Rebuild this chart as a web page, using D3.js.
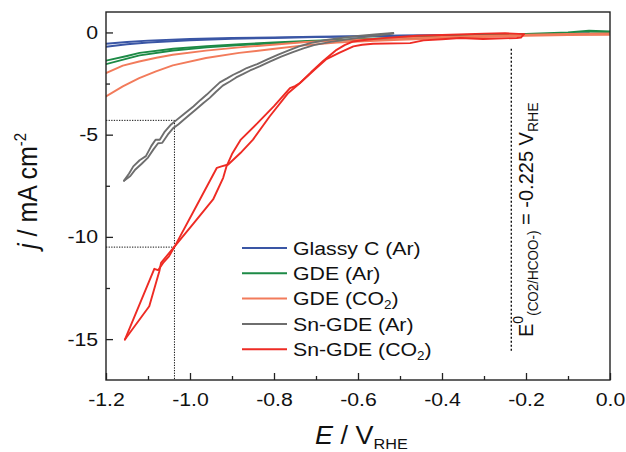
<!DOCTYPE html>
<html><head><meta charset="utf-8">
<script src="https://cdn.jsdelivr.net/npm/d3@7"></script>
<style>
body{margin:0;background:#fff;}
svg{display:block;font-family:"Liberation Sans",Arial,sans-serif;}
</style></head>
<body><div id="chart"></div>
<script>
// ---------- data ----------
const seriesNames = ["Glassy C (Ar)", "GDE (Ar)", "GDE (CO2)", "Sn-GDE (Ar)", "Sn-GDE (CO2)"];
const seriesColors = ["#3a56a5", "#1d8a46", "#f27b5b", "#6e6e6e", "#ee2b24"];

const glassyFwd = [[-1.2,-0.55],[-1.15,-0.47],[-1.1,-0.40],[-1.0,-0.32],[-0.9,-0.27],[-0.8,-0.24],[-0.7,-0.21],[-0.6,-0.18],[-0.5,-0.15],[-0.4,-0.13],[-0.3,-0.11],[-0.2,-0.08],[-0.1,-0.06],[-0.05,-0.05]];
const glassyRev = [[-1.2,-0.70],[-1.15,-0.58],[-1.1,-0.49],[-1.0,-0.38],[-0.9,-0.31],[-0.8,-0.27],[-0.7,-0.23],[-0.6,-0.20],[-0.5,-0.17],[-0.4,-0.15],[-0.3,-0.13],[-0.2,-0.10],[-0.1,-0.07],[-0.05,-0.05]];

const gdeArFwd = [[-1.2,-1.38],[-1.15,-1.15],[-1.12,-1.0],[-1.04,-0.80],[-0.96,-0.67],[-0.88,-0.57],[-0.80,-0.49],[-0.72,-0.41],[-0.6,-0.33],[-0.5,-0.26],[-0.4,-0.20],[-0.3,-0.14],[-0.2,-0.07],[-0.1,0.0],[-0.05,0.08],[0.0,0.05]];
const gdeArRev = [[-1.2,-1.55],[-1.15,-1.28],[-1.12,-1.12],[-1.04,-0.88],[-0.96,-0.73],[-0.88,-0.62],[-0.80,-0.53],[-0.72,-0.45],[-0.6,-0.37],[-0.5,-0.30],[-0.4,-0.24],[-0.3,-0.18],[-0.2,-0.12],[-0.1,-0.06],[0.0,-0.02]];

const gdeCO2Fwd = [[-1.2,-1.99],[-1.16,-1.62],[-1.121,-1.42],[-1.08,-1.24],[-1.041,-1.09],[-0.962,-0.89],[-0.883,-0.73],[-0.803,-0.60],[-0.724,-0.47],[-0.65,-0.40],[-0.6,-0.35],[-0.5,-0.28],[-0.4,-0.22],[-0.3,-0.16],[-0.2,-0.11],[-0.1,-0.07],[0.0,-0.05]];
const gdeCO2Rev = [[-1.2,-3.13],[-1.16,-2.64],[-1.121,-2.23],[-1.081,-1.90],[-1.041,-1.61],[-0.962,-1.25],[-0.883,-1.0],[-0.803,-0.81],[-0.724,-0.62],[-0.65,-0.50],[-0.6,-0.44],[-0.5,-0.36],[-0.4,-0.29],[-0.3,-0.22],[-0.2,-0.17],[-0.1,-0.13],[0.0,-0.12]];

const snArFwd = [[-1.157,-7.25],[-1.145,-6.9],[-1.135,-6.55],[-1.12,-6.25],[-1.105,-6.05],[-1.092,-5.55],[-1.082,-5.25],[-1.072,-5.25],[-1.06,-4.85],[-1.045,-4.5],[-1.036,-4.35],[-1.015,-4.0],[-0.992,-3.62],[-0.975,-3.3],[-0.96,-3.04],[-0.945,-2.75],[-0.929,-2.44],[-0.912,-2.25],[-0.897,-2.07],[-0.88,-1.9],[-0.865,-1.74],[-0.84,-1.55],[-0.817,-1.33],[-0.79,-1.08],[-0.762,-0.85],[-0.74,-0.68],[-0.714,-0.52],[-0.68,-0.38],[-0.64,-0.27],[-0.6,-0.17],[-0.56,-0.10],[-0.516,-0.03]];
const snArRev = [[-1.157,-7.25],[-1.142,-7.02],[-1.13,-6.7],[-1.115,-6.42],[-1.1,-6.12],[-1.087,-5.72],[-1.076,-5.42],[-1.066,-5.4],[-1.053,-5.0],[-1.04,-4.68],[-1.028,-4.5],[-1.008,-4.15],[-0.986,-3.77],[-0.968,-3.45],[-0.953,-3.2],[-0.938,-2.9],[-0.922,-2.6],[-0.905,-2.4],[-0.89,-2.2],[-0.873,-2.03],[-0.857,-1.86],[-0.833,-1.65],[-0.81,-1.43],[-0.783,-1.18],[-0.755,-0.96],[-0.73,-0.78],[-0.705,-0.62],[-0.665,-0.46],[-0.625,-0.34],[-0.585,-0.23],[-0.545,-0.13],[-0.516,-0.05]];

const snCO2Fwd = [[-0.205,-0.08],[-0.25,-0.04],[-0.30,-0.06],[-0.38,-0.11],[-0.46,-0.16],[-0.54,-0.28],[-0.58,-0.36],[-0.611,-0.44],[-0.632,-0.62],[-0.651,-0.85],[-0.683,-1.40],[-0.712,-1.95],[-0.738,-2.47],[-0.750,-2.62],[-0.762,-2.72],[-0.80,-3.6],[-0.84,-4.45],[-0.879,-5.24],[-0.900,-5.95],[-0.913,-6.55],[-0.921,-7.11],[-0.945,-8.17],[-0.99,-9.3],[-1.036,-10.45],[-1.069,-11.27],[-1.073,-11.68],[-1.097,-13.39],[-1.155,-15.02]];
const snCO2Rev = [[-0.205,-0.08],[-0.212,-0.25],[-0.222,-0.27],[-0.302,-0.32],[-0.357,-0.27],[-0.40,-0.33],[-0.444,-0.39],[-0.476,-0.52],[-0.564,-0.55],[-0.59,-0.60],[-0.611,-0.68],[-0.645,-1.0],[-0.675,-1.30],[-0.705,-1.85],[-0.738,-2.47],[-0.766,-2.96],[-0.81,-4.1],[-0.85,-5.24],[-0.88,-5.9],[-0.909,-6.46],[-0.925,-6.55],[-0.936,-6.62],[-0.985,-8.5],[-1.036,-10.45],[-1.050,-10.95],[-1.064,-11.27],[-1.076,-11.63],[-1.085,-11.56],[-1.155,-15.02]];

const seriesData = [[glassyFwd, glassyRev],[gdeArFwd, gdeArRev],[gdeCO2Fwd, gdeCO2Rev],[snArFwd, snArRev],[snCO2Fwd, snCO2Rev]];

const xDomain = [-1.2, 0.0];
const yDomain = [-17, 1];
const xMajorTicks = [-1.2,-1.0,-0.8,-0.6,-0.4,-0.2,0.0];
const xMinorTicks = [-1.1,-0.9,-0.7,-0.5,-0.3,-0.1];
const yMajorTicks = [0,-5,-10,-15];
const yMinorTicks = [-2.5,-7.5,-12.5];
const markerE = -1.037;            // dotted guide, E value
const markerJ = [-4.3, -10.5];     // dotted guide, j values
const eqPotential = -0.235;        // dashed line position (drawn)
const eqLineRange = [-0.8, -15.65];

// ---------- layout ----------
const W = 626, H = 452;
const L = 106, R = 610, T = 12, B = 380;
const SX = 1.12; // horizontal glyph stretch of reference

const svg = d3.select("#chart").append("svg").attr("width", W).attr("height", H);
const x = d3.scaleLinear().domain(xDomain).range([L, R]);
const y = d3.scaleLinear().domain(yDomain).range([B, T]);

svg.append("clipPath").attr("id","clip").append("rect")
  .attr("x", L).attr("y", T).attr("width", R-L).attr("height", B-T);

// reference guides
const guides = svg.append("g").attr("stroke","#111").attr("fill","none");
markerJ.forEach(j => {
  guides.append("line").attr("x1", x(xDomain[0])).attr("x2", x(markerE))
    .attr("y1", y(j)).attr("y2", y(j)).attr("stroke-width",1).attr("stroke-dasharray","1.3,1.3");
});
guides.append("line").attr("x1", x(markerE)).attr("x2", x(markerE))
  .attr("y1", y(markerJ[0])).attr("y2", y(yDomain[0])).attr("stroke-width",1).attr("stroke-dasharray","1.3,1.3");
guides.append("line").attr("x1", x(eqPotential)).attr("x2", x(eqPotential))
  .attr("y1", y(eqLineRange[0])).attr("y2", y(eqLineRange[1])).attr("stroke-width",1.4).attr("stroke-dasharray","2,2");

// curves
const line = d3.line().x(d => x(d[0])).y(d => y(d[1]));
const curves = svg.append("g").attr("clip-path","url(#clip)");
seriesData.forEach((branches, i) => {
  branches.forEach(b => {
    curves.append("path").attr("d", line(b)).attr("fill","none")
      .attr("stroke", seriesColors[i]).attr("stroke-width", 1.9)
      .attr("stroke-linejoin","round").attr("stroke-linecap","round");
  });
});

// axes
const axisColor = "#222";
const fontSize = 19;
const xAxis = svg.append("g").attr("transform", `translate(0,${B})`)
  .call(d3.axisBottom(x).tickValues(xMajorTicks).tickSize(-7).tickPadding(13).tickFormat(d3.format(".1f")));
const xMinor = svg.append("g").attr("transform", `translate(0,${B})`)
  .call(d3.axisBottom(x).tickValues(xMinorTicks).tickSize(-4).tickFormat(""));
const yAxis = svg.append("g").attr("transform", `translate(${L},0)`)
  .call(d3.axisLeft(y).tickValues(yMajorTicks).tickSize(-7).tickPadding(7).tickFormat(d3.format("d")));
const yMinor = svg.append("g").attr("transform", `translate(${L},0)`)
  .call(d3.axisLeft(y).tickValues(yMinorTicks).tickSize(-4).tickFormat(""));
[xAxis, xMinor, yAxis, yMinor].forEach(g => {
  g.select(".domain").remove();
  g.selectAll("line").attr("stroke", axisColor).attr("stroke-width", 1.3);
  g.selectAll("text").attr("fill","#111").style("font-size", fontSize+"px")
    .style("font-family","Liberation Sans, Arial, sans-serif")
    .attr("transform", `scale(${SX},1)`);
});
xAxis.selectAll("text").text(d => d3.format(".1f")(d).replace("−","-"));
yAxis.selectAll("text").text(d => String(d).replace("−","-"));

svg.append("rect").attr("x", L).attr("y", T).attr("width", R-L).attr("height", B-T)
  .attr("fill","none").attr("stroke", axisColor).attr("stroke-width", 1.4);

// axis titles
const xt = svg.append("g").attr("transform", `translate(315,444) scale(1.08,1)`)
  .append("text").attr("text-anchor","start").attr("fill","#111").style("font-size","25px");
xt.append("tspan").attr("font-style","italic").text("E");
xt.append("tspan").text(" / V");
xt.append("tspan").attr("dy",5).style("font-size","15px").text("RHE");

const yt = svg.append("g").attr("transform", `translate(37,249) scale(1.08,1) rotate(-90)`)
  .append("text").attr("text-anchor","start").attr("fill","#111").style("font-size","25px");
yt.append("tspan").attr("font-style","italic").text("j");
yt.append("tspan").text(" / mA cm");
yt.append("tspan").attr("dy",-10).style("font-size","15px").text("-2");

// equilibrium potential label
const et = svg.append("g").attr("transform", `translate(533,337) scale(1.05,1) rotate(-90)`)
  .append("text").attr("text-anchor","start").attr("fill","#111").style("font-size","20px");
et.append("tspan").text("E");
et.append("tspan").attr("dy",-10).style("font-size","14px").text("0");
et.append("tspan").attr("dy",15).style("font-size","13.5px").text("(CO2/HCOO-)");
et.append("tspan").attr("dy",-5).text(" = -0.225 V");
et.append("tspan").attr("dy",5).style("font-size","14px").text("RHE");

// legend
const legend = svg.append("g");
seriesNames.forEach((name, i) => {
  const yy = 248 + i * 25.3;
  legend.append("line").attr("x1", 242).attr("x2", 287).attr("y1", yy).attr("y2", yy)
    .attr("stroke", seriesColors[i]).attr("stroke-width", 2);
  const t = legend.append("g").attr("transform", `translate(293,${yy + 6.8}) scale(${SX},1)`)
    .append("text").attr("fill","#111").style("font-size", fontSize+"px");
  const m = name.match(/^(.*CO)2(\).*)$/);
  if (m) {
    t.append("tspan").text(m[1]);
    t.append("tspan").attr("dy",4).style("font-size","12px").text("2");
    t.append("tspan").attr("dy",-4).text(m[2]);
  } else {
    t.text(name);
  }
});
</script>
</body></html>
